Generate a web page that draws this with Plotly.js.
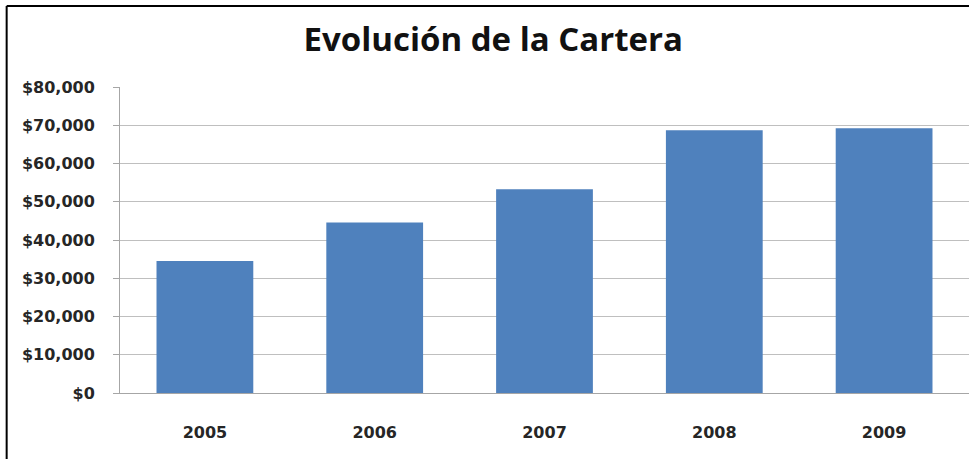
<!DOCTYPE html>
<html>
<head>
<meta charset="utf-8">
<script src="https://cdn.plot.ly/plotly-3.0.1.min.js"></script>
<style>
  html, body { margin: 0; padding: 0; background: #ffffff; }
  #chart { width: 969px; height: 459px; }
</style>
</head>
<body>
<div id="chart"></div>
<script>
const years = ['2005', '2006', '2007', '2008', '2009'];
const cartera = [34500, 44600, 53300, 68700, 69200];
const yTickVals = [0, 10000, 20000, 30000, 40000, 50000, 60000, 70000, 80000];
const yTickText = ['$0', '$10,000', '$20,000', '$30,000', '$40,000', '$50,000', '$60,000', '$70,000', '$80,000'];
const chartTitle = 'Evolución de la Cartera';

const labelFont = '"DejaVu Sans", sans-serif';

const trace = {
  type: 'bar',
  x: years,
  y: cartera,
  marker: { color: '#4f81bd' },
  hoverinfo: 'x+y'
};

const layout = {
  width: 969,
  height: 459,
  margin: { l: 120, r: 0, t: 87, b: 66 },
  paper_bgcolor: '#ffffff',
  plot_bgcolor: '#ffffff',
  bargap: 0.43,
  showlegend: false,
  font: { family: labelFont, color: '#262626' },
  title: {
    text: '<b>' + chartTitle + '</b>',
    font: { family: '"Open Sans", sans-serif', size: 33, color: '#111111' },
    x: 0.509, xref: 'container', xanchor: 'center',
    y: 0.915, yref: 'container', yanchor: 'middle'
  },
  xaxis: {
    type: 'category',
    showgrid: false,
    showline: true,
    linecolor: '#a6a6a6',
    linewidth: 1,
    ticks: '',
    ticklabelstandoff: 25,
    tickfont: { family: labelFont, size: 16, color: '#262626', weight: 'bold' },
    fixedrange: true
  },
  yaxis: {
    range: [0, 80000],
    tickvals: yTickVals,
    ticktext: yTickText,
    showgrid: true,
    gridcolor: '#bfbfbf',
    gridwidth: 1,
    showline: true,
    linecolor: '#a6a6a6',
    linewidth: 1,
    ticks: 'outside',
    ticklen: 6,
    tickcolor: '#a6a6a6',
    ticklabelstandoff: 15,
    zeroline: false,
    tickfont: { family: labelFont, size: 16, color: '#262626', weight: 'bold' },
    fixedrange: true
  },
  shapes: [
    { type: 'line', xref: 'paper', yref: 'paper', x0: -0.1335, x1: -0.1335, y0: 1.265, y1: -0.22, line: { color: '#000000', width: 2 } },
    { type: 'line', xref: 'paper', yref: 'paper', x0: -0.1335, x1: 1.01, y0: 1.265, y1: 1.265, line: { color: '#000000', width: 2 } }
  ]
};

Plotly.newPlot('chart', [trace], layout, { displayModeBar: false, staticPlot: true });
</script>
</body>
</html>
